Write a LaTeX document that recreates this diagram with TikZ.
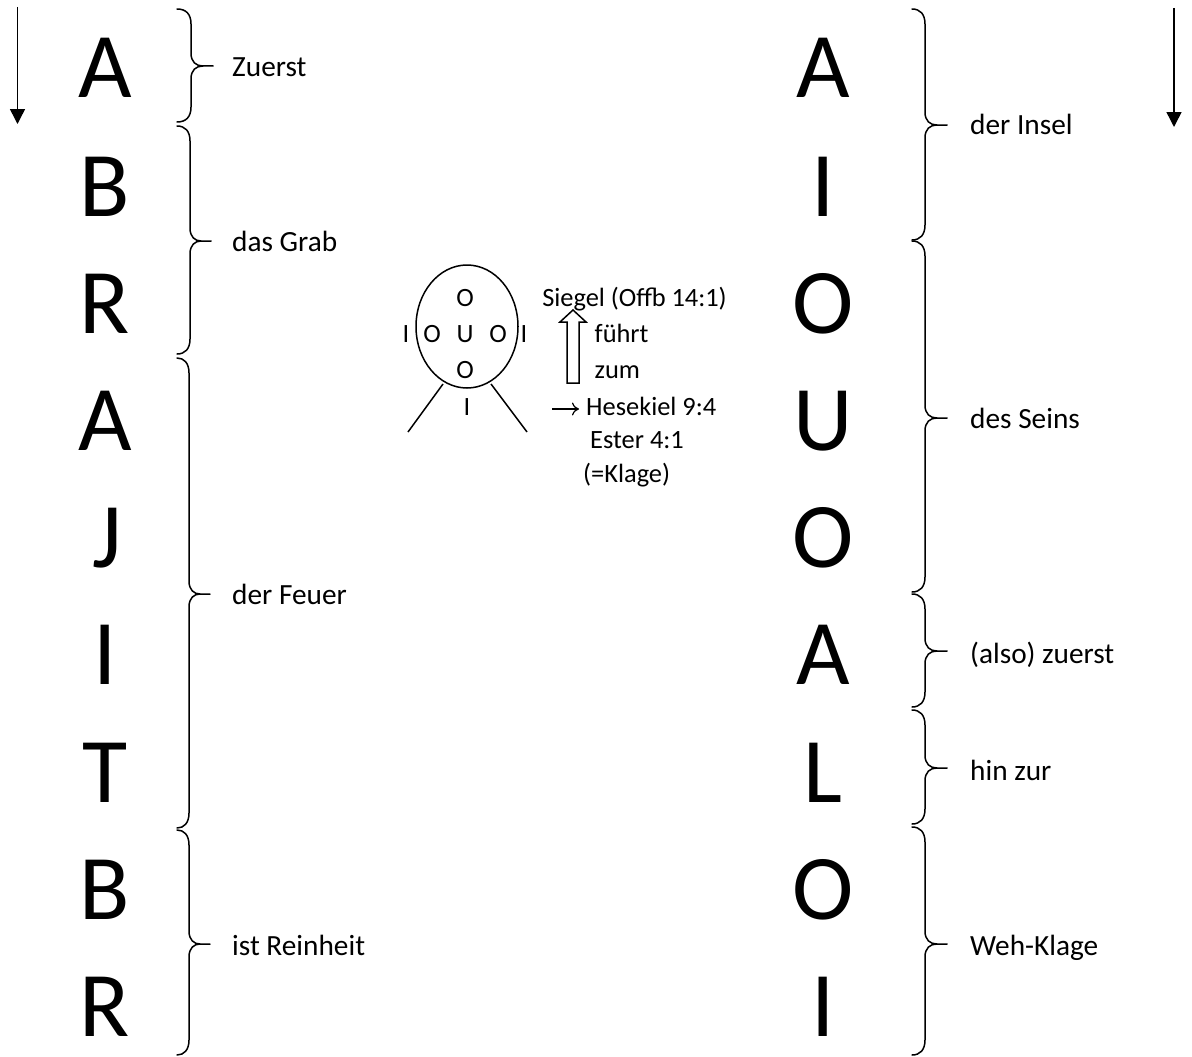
\documentclass[tikz,border=0pt]{standalone}
\usepackage{fontspec}
\setmainfont{Carlito}
\usetikzlibrary{arrows.meta,shapes.geometric}
\newcommand{\bigtxt}{\fontsize{92.5}{94}\selectfont}
\newcommand{\midtxt}{\fontsize{29.3}{30}\selectfont}
\newcommand{\smtxt}{\fontsize{26.4}{27}\selectfont}
\tikzset{
  big/.style={anchor=base,inner sep=0pt,font=\bigtxt},
  lab/.style={anchor=base west,inner sep=0pt,font=\midtxt},
  sm/.style={anchor=base,inner sep=0pt,font=\smtxt},
  curly/.style={draw=black,line width=1.5pt},
  thin line/.style={draw=black,line width=1.5pt},
  downarrow/.style={draw=black,line width=1.5pt,-{Triangle[length=15pt,width=15pt]}},
}
% #1 end x, #2 spine x, #3 tip x, #4 top y, #5 mid y, #6 bottom y
\newcommand{\mybrace}[6]{%
  \draw[curly,line cap=round] (#1,#4) .. controls (#2-5,#4) and (#2,#4+5) .. (#2,#4+15)
    -- (#2,#5-13) .. controls (#2,#5-4) and (#2+5,#5) .. (#3-10,#5) -- (#3,#5)
    (#3-10,#5) .. controls (#2+5,#5) and (#2,#5+4) .. (#2,#5+13)
    -- (#2,#6-15) .. controls (#2,#6-5) and (#2-5,#6) .. (#1,#6);}
\begin{document}
\begin{tikzpicture}[x=1pt,y=-1pt]
\useasboundingbox (0,0) rectangle (1192,1057);
% left column
\node[big] (l1) at (105,98) {A};
\node[big] (l2) at (105,216) {B};
\node[big] (l3) at (105,333) {R};
\node[big] (l4) at (105,450) {A};
\node[big] (l5) at (107,567) {J};
\node[big] (l6) at (105,684) {I};
\node[big] (l7) at (105,802) {T};
\node[big] (l8) at (105,919) {B};
\node[big] (l9) at (105,1036) {R};
% right column
\node[big] (r1) at (823,98) {A};
\node[big] (r2) at (823,216) {I};
\node[big] (r3) at (823,333) {O};
\node[big] (r4) at (823,450) {U};
\node[big] (r5) at (823,567) {O};
\node[big] (r6) at (823,684) {A};
\node[big] (r7) at (823,802) {L};
\node[big] (r8) at (823,919) {O};
\node[big] (r9) at (823,1036) {I};
% left braces
\mybrace{177}{191}{213}{9}{66}{122}
\mybrace{177}{190}{211}{126}{241}{354}
\mybrace{177}{189}{210}{358}{594}{828}
\mybrace{177}{189}{210}{830}{944}{1055}
% right braces
\mybrace{912}{925}{947}{9}{125}{240}
\mybrace{912}{925}{947}{241}{418}{592}
\mybrace{912}{925}{947}{594}{651}{707}
\mybrace{912}{925}{947}{710}{768}{824}
\mybrace{912}{925}{947}{827}{944}{1055}
% labels
\node[lab] (t1) at (232,76.5) {Zuerst};
\node[lab] (t2) at (232,251) {das Grab};
\node[lab] (t3) at (232,604) {der Feuer};
\node[lab] (t4) at (232,955) {ist Reinheit};
\node[lab] (t5) at (970,135) {der Insel};
\node[lab] (t6) at (970,428) {des Seins};
\node[lab] (t7) at (970,663) {(also) zuerst};
\node[lab] (t8) at (970,780) {hin zur};
\node[lab] (t9) at (970,955) {Weh-Klage};
% side arrows
\coordinate (a1) at (17.5,7); \coordinate (a2) at (17.5,124);
\coordinate (b1) at (1174,8); \coordinate (b2) at (1174,127);
\draw[downarrow] (a1) -- (a2);
\draw[downarrow] (b1) -- (b2);
% figure
\node[draw=black,line width=1.5pt,ellipse,minimum width=102pt,minimum height=123pt,inner sep=0pt] (head) at (467,326.5) {};
\node[sm] (o1) at (465,306) {O};
\node[sm] (i1) at (406,342) {I};
\node[sm] (o2) at (432,342) {O};
\node[sm] (u) at (465,342) {U};
\node[sm] (o3) at (498,342) {O};
\node[sm] (i2) at (524,342) {I};
\node[sm] (o4) at (465,378) {O};
\node[sm] (i3) at (467,415) {I};
\coordinate (ll1) at (443,384); \coordinate (ll2) at (408,432);
\coordinate (rl1) at (491,384); \coordinate (rl2) at (527,432);
\draw[thin line] (ll1) -- (ll2);
\draw[thin line] (rl1) -- (rl2);
% text block
\node[sm] (s1) at (634.5,306) {Siegel (Offb 14:1)};
\node[sm,anchor=base west] (s2) at (594.5,342) {führt};
\node[sm,anchor=base west] (s3) at (594.5,378) {zum};
\node[sm,anchor=base west] (s4) at (586,415.5) {Hesekiel 9:4};
\node[sm,anchor=base west] (s5) at (590,448.5) {Ester 4:1};
\node[sm,anchor=base west] (s6) at (583,482) {(=Klage)};
\draw[line width=1.5pt] (573,310) -- (586,322) -- (579,322) -- (579,383) -- (567,383) -- (567,322) -- (560,322) -- cycle;
\coordinate (sa) at (552,409); \coordinate (sb) at (579,409);
\draw[line width=1.2pt,-{Computer Modern Rightarrow[length=7pt,width=13pt]}] (sa) -- (sb);
\end{tikzpicture}
\end{document}
